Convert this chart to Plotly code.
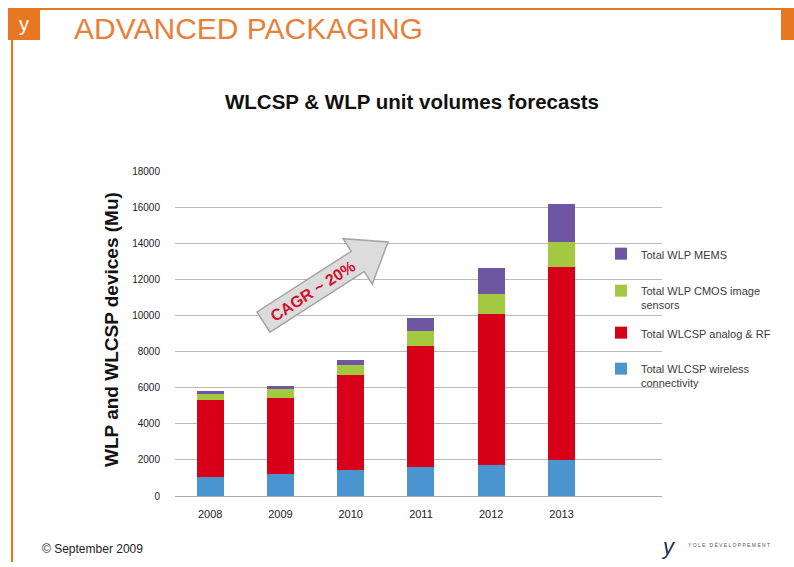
import plotly.graph_objects as go

years = ["2008", "2009", "2010", "2011", "2012", "2013"]
wireless = [1050, 1240, 1420, 1600, 1700, 2010]
analog_rf = [4285, 4190, 5280, 6720, 8380, 10650]
cmos = [330, 500, 555, 795, 1090, 1405]
mems = [165, 150, 295, 720, 1440, 2105]

names = ["Total WLCSP wireless<br>connectivity", "Total WLCSP analog & RF",
         "Total WLP CMOS image<br>sensors", "Total WLP MEMS"]
colors = ["#4A95CF", "#D80019", "#A2C93F", "#6F56A3"]
series = [wireless, analog_rf, cmos, mems]

W, H = 794, 567
L, R, T, B = 175, 662, 171, 496
PW, PH = R - L, B - T

def px(x):
    return (x - L) / PW

def py(y):
    return (B - y) / PH

FONT = "Liberation Sans, Arial, sans-serif"

fig = go.Figure()
legend_ids = ["legend4", "legend3", "legend2", "legend"]
for s, n, c, lg in zip(series, names, colors, legend_ids):
    fig.add_trace(go.Bar(x=years, y=s, name=n, marker=dict(color=c, line=dict(width=0)), legend=lg))

def leg(ytop):
    return dict(x=px(601), y=py(ytop), xanchor="left", yanchor="top", bgcolor="rgba(0,0,0,0)",
                font=dict(family=FONT, size=11, color="#3A3A3A"), valign="top", itemwidth=30)

fig.update_layout(
    width=W, height=H, autosize=False,
    margin=dict(l=L, r=W - R, t=T, b=H - B),
    paper_bgcolor="white", plot_bgcolor="white",
    barmode="stack", bargap=0.616,
    font=dict(family=FONT, color="#222222"),
    legend=leg(240), legend2=leg(277), legend3=leg(319), legend4=leg(355),
    xaxis=dict(type="category", range=[-0.5, 6.43], showgrid=False, showline=False,
               ticks="outside", ticklen=8, tickcolor="rgba(0,0,0,0)",
               tickfont=dict(size=11, color="#222222"), zeroline=False),
    yaxis=dict(range=[0, 18000], dtick=2000, tickformat="d", showgrid=True,
               gridcolor="#BBBBBB", gridwidth=1.3,
               showline=False, zeroline=True, zerolinecolor="#AAAAAA", zerolinewidth=1.3,
               ticks="outside", ticklen=12, tickcolor="rgba(0,0,0,0)",
               tickfont=dict(size=10, color="#222222")),
    showlegend=True,
)

# frame / header
shapes = [
    dict(type="rect", xref="paper", yref="paper", x0=px(10), x1=px(794), y0=py(10), y1=py(8),
         fillcolor="#E87722", line=dict(width=0), layer="above"),
    dict(type="rect", xref="paper", yref="paper", x0=px(11), x1=px(13), y0=py(562), y1=py(8),
         fillcolor="#E87722", line=dict(width=0), layer="above"),
    dict(type="rect", xref="paper", yref="paper", x0=px(8), x1=px(40), y0=py(40), y1=py(8),
         fillcolor="#E87722", line=dict(width=0), layer="above"),
    dict(type="rect", xref="paper", yref="paper", x0=px(781), x1=px(794), y0=py(40), y1=py(8),
         fillcolor="#E87722", line=dict(width=0), layer="above"),
]

# CAGR arrow
arrow_pts = [(270, 332.1), (364.2, 271.5), (372.3, 284.1), (388, 242), (343.1, 238.7),
             (351.2, 251.3), (257, 311.9)]
path = "M " + " L ".join(f"{px(x):.5f},{py(y):.5f}" for x, y in arrow_pts) + " Z"
shapes.append(dict(type="path", xref="paper", yref="paper", path=path,
                   fillcolor="#DCDCDC", line=dict(color="#A5A5A5", width=1.5), layer="above"))
fig.update_layout(shapes=shapes)

ann = [
    dict(text="ADVANCED PACKAGING", x=px(72), y=py(28), xanchor="left", yanchor="middle",
         font=dict(family=FONT, size=30, color="#E8803A")),
    dict(text="y", x=px(24), y=py(24), xanchor="center", yanchor="middle",
         font=dict(family=FONT, size=20, color="white")),
    dict(text="<b>WLCSP & WLP unit volumes forecasts</b>", x=px(412), y=py(101),
         xanchor="center", yanchor="middle", font=dict(family=FONT, size=20.5, color="#111111")),
    dict(text="<b>WLP and WLCSP devices (Mu)</b>", x=px(111), y=py(330), textangle=-90,
         xanchor="center", yanchor="middle", font=dict(family=FONT, size=19, color="#111111")),
    dict(text="<b>CAGR ~ 20%</b>", x=px(312), y=py(291), textangle=-33,
         xanchor="center", yanchor="middle", font=dict(family=FONT, size=16, color="#D2122E")),
    dict(text="© September 2009", x=px(40), y=py(549), xanchor="left", yanchor="middle",
         font=dict(family=FONT, size=12, color="#222222")),
    dict(text="<i>y</i>", x=px(668), y=py(546), xanchor="center", yanchor="middle",
         font=dict(family=FONT, size=22, color="#1F2A5A")),
    dict(text="Y O L E   D É V E L O P P E M E N T", x=px(686), y=py(545), xanchor="left",
         yanchor="middle", font=dict(family=FONT, size=5, color="#555555")),
]
for a in ann:
    a.update(xref="paper", yref="paper", showarrow=False)
fig.update_layout(annotations=ann)

fig.write_html("out.html", config={"displayModeBar": False},
               post_script="document.body.style.margin='0px';")
